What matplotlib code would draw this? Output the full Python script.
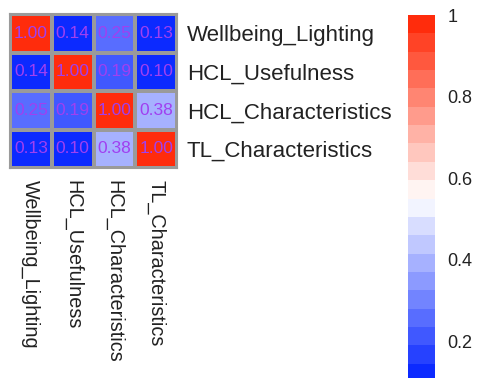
import numpy as np
import matplotlib
matplotlib.use("Agg")
import matplotlib.pyplot as plt
from matplotlib.colors import LinearSegmentedColormap, ListedColormap, BoundaryNorm

# variables and correlation matrix
labels = ["Wellbeing_Lighting", "HCL_Usefulness", "HCL_Characteristics", "TL_Characteristics"]
corr = np.array([
    [1.00, 0.14, 0.25, 0.13],
    [0.14, 1.00, 0.19, 0.10],
    [0.25, 0.19, 1.00, 0.38],
    [0.13, 0.10, 0.38, 1.00],
])
cbar_ticks = [0.2, 0.4, 0.6, 0.8, 1.0]
cbar_ticklabels = ["0.2", "0.4", "0.6", "0.8", "1"]

plt.rcParams['font.family'] = ['Liberation Sans', 'DejaVu Sans']

# blue -> white -> red, binned in 20 steps
vmin, vmax, nbins = 0.1, 1.0, 20
base = LinearSegmentedColormap.from_list("bwr2", [(0.0, "#0020ff"), (0.5, "#ffffff"), (1.0, "#ff2200")])
bounds = np.linspace(vmin, vmax, nbins + 1)
centers = (np.arange(nbins) + 0.5) / nbins
cmap = ListedColormap(base(centers))
norm = BoundaryNorm(bounds, cmap.N)

W, H = 478, 378
fig = plt.figure(figsize=(W / 100, H / 100), dpi=100)

# heatmap
ax = fig.add_axes([10 / W, 1 - 168 / H, 167 / W, 154 / H])
n = len(labels)
ax.pcolormesh(np.arange(n + 1), np.arange(n + 1), corr, cmap=cmap, norm=norm,
              edgecolors="#9a9a9a", linewidth=1.5)
ax.set_xlim(0, n)
ax.set_ylim(n, 0)
for i in range(n):
    for j in range(n):
        ax.text(j + 0.5, i + 0.5, f"{corr[i, j]:.2f}", ha="center", va="center",
                fontsize=12.5, color="#a040f0")
ax.yaxis.tick_right()
ax.set_yticks(np.arange(n) + 0.5)
ax.set_yticklabels(labels, fontsize=16, color="#222222")
ax.set_xticks(np.arange(n) + 0.5)
ax.set_xticklabels(labels, fontsize=14.3, rotation=270, va="top", ha="center", color="#222222")
ax.tick_params(length=0, pad=7)
ax.tick_params(axis="x", pad=9)
for s in ax.spines.values():
    s.set_color("#9a9a9a")
    s.set_linewidth(1.5)

# colorbar
cax = fig.add_axes([408 / W, 1 - 382 / H, 27 / W, 367 / H])
sm = plt.cm.ScalarMappable(cmap=cmap, norm=norm)
cb = fig.colorbar(sm, cax=cax, boundaries=bounds, ticks=cbar_ticks)
cb.set_ticklabels(cbar_ticklabels)
cb.outline.set_visible(False)
cax.minorticks_off()
cax.tick_params(which="both", length=0, pad=9, labelsize=13, labelcolor="#222222")

fig.savefig("out.png", dpi=100)
